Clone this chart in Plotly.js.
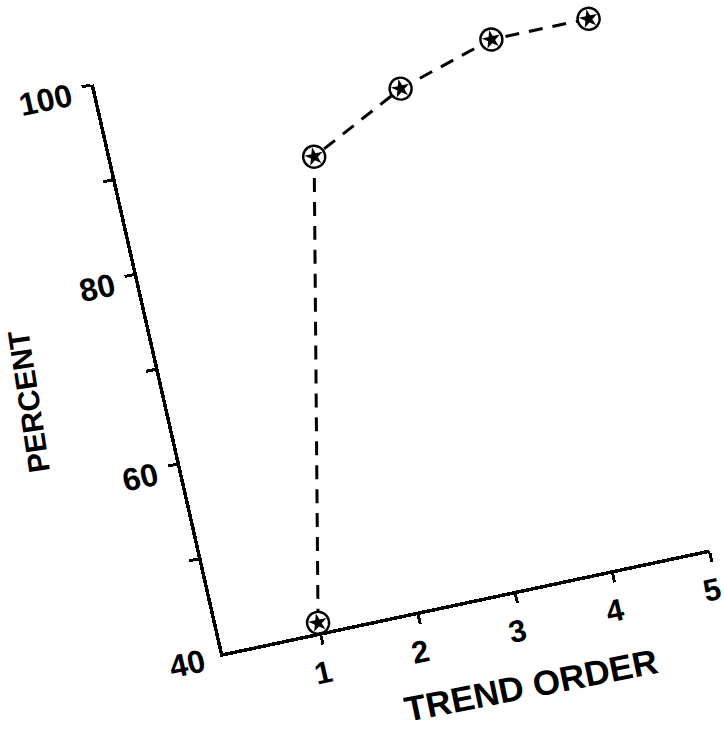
<!DOCTYPE html>
<html>
<head>
<meta charset="utf-8">
<script src="https://cdn.plot.ly/plotly-3.0.1.min.js"></script>
<style>
  html, body { margin: 0; padding: 0; background: #ffffff; overflow: hidden; width: 724px; height: 736px; }
  #wrap { position: absolute; left: 23px; top: 10px; width: 757px; height: 803px;
          transform-origin: 200px 643px;
          transform: matrix(0.978, -0.2083, 0.2214, 0.9753, 0, 0); }
</style>
</head>
<body>
<div id="wrap"><div id="chart"></div></div>
<script>
// Data
const trendOrder = [1, 2, 3, 4, 5];
const percent = [41, 88, 93, 96, 96];

// Axis ticks
const xTickVals = [1, 2, 3, 4, 5];
const xTickText = ['1', '2', '3', '4', '5'];
const yTickVals = [50, 60, 70, 80, 90, 100];
const yTickText = ['', '60', '', '80', '', '100'];
const yBaseTickVals = [40];
const yBaseTickText = ['40'];

const xTitle = 'TREND ORDER';
const yTitle = 'PERCENT';

const FONT = '"Liberation Sans", Arial, Helvetica, sans-serif';

const traces = [
  {
    x: trendOrder, y: percent, mode: 'lines', type: 'scatter',
    line: { color: '#000', width: 3, dash: '14px,10px' },
    cliponaxis: false, hoverinfo: 'skip', showlegend: false
  },
  {
    x: trendOrder, y: percent, mode: 'markers', type: 'scatter',
    marker: { symbol: 'circle', size: 22, color: '#fff', line: { color: '#000', width: 2.4 } },
    cliponaxis: false, hoverinfo: 'skip', showlegend: false
  },
  {
    x: trendOrder, y: percent, mode: 'markers', type: 'scatter',
    marker: { symbol: 'star', size: 14, color: '#000', line: { width: 0 } },
    cliponaxis: false, hoverinfo: 'skip', showlegend: false
  },
  {
    x: trendOrder, y: percent, mode: 'markers', type: 'scatter', yaxis: 'y2',
    marker: { size: 1, opacity: 0 }, hoverinfo: 'skip', showlegend: false
  }
];

const tickFont = { family: FONT, size: 32, color: '#000', weight: 'bold' };
const xTickFont = { family: FONT, size: 31, color: '#000', weight: 'bold' };

const layout = {
  width: 757, height: 803,
  margin: { l: 200, r: 60, t: 60, b: 160 },
  paper_bgcolor: 'rgba(0,0,0,0)', plot_bgcolor: 'rgba(0,0,0,0)',
  showlegend: false,
  xaxis: {
    range: [0, 5], showgrid: false, zeroline: false,
    showline: true, linecolor: '#000', linewidth: 3.5,
    ticks: 'outside', ticklen: 9, tickwidth: 3, tickcolor: '#000',
    tickmode: 'array', tickvals: xTickVals, ticktext: xTickText,
    ticklabelstandoff: 1, ticklabelshift: -6,
    tickfont: xTickFont, fixedrange: true
  },
  yaxis: {
    range: [40, 100], showgrid: false, zeroline: false,
    showline: true, linecolor: '#000', linewidth: 3.5,
    ticks: 'outside', ticklen: 9, tickwidth: 3, tickcolor: '#000',
    tickmode: 'array', tickvals: yTickVals, ticktext: yTickText,
    ticklabelstandoff: 5, ticklabelshift: 5,
    tickfont: tickFont, fixedrange: true
  },
  yaxis2: {
    overlaying: 'y', side: 'left', range: [40, 100],
    showgrid: false, zeroline: false, showline: false,
    ticks: 'outside', ticklen: 9, tickwidth: 3, tickcolor: 'rgba(0,0,0,0)',
    tickmode: 'array', tickvals: yBaseTickVals, ticktext: yBaseTickText,
    ticklabelstandoff: 3, ticklabelshift: 3,
    tickfont: tickFont, fixedrange: true
  },
  annotations: [
    {
      text: xTitle, xref: 'x', yref: 'paper', x: 2.95, y: 0,
      yshift: -95, xanchor: 'center', yanchor: 'middle', showarrow: false,
      textangle: 1, font: { family: FONT, size: 35, color: '#000', weight: 'bold' }
    },
    {
      text: yTitle, xref: 'paper', yref: 'y', x: 0, y: 69.4,
      xshift: -134, xanchor: 'center', yanchor: 'middle', showarrow: false,
      textangle: -86, font: { family: FONT, size: 30, color: '#000', weight: 'bold' }
    }
  ]
};

Plotly.newPlot('chart', traces, layout, { staticPlot: true, displayModeBar: false });
</script>
</body>
</html>
